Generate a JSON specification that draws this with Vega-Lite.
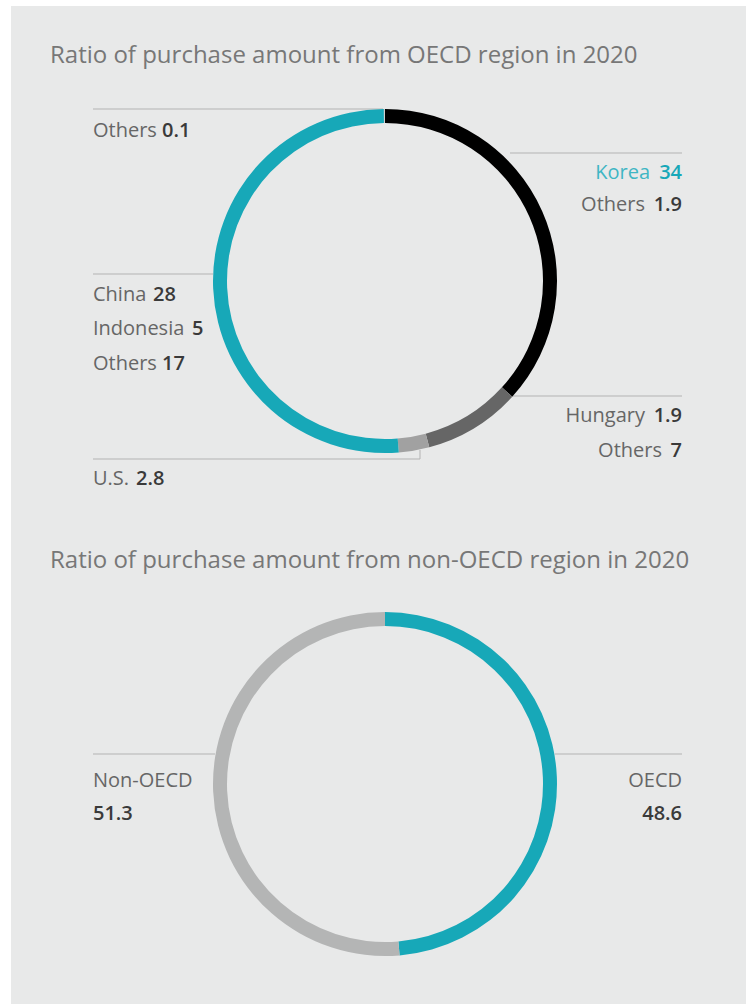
{
  "$schema": "https://vega.github.io/schema/vega-lite/v6.json",
  "width": 746,
  "height": 1005,
  "padding": 0,
  "autosize": {"type": "fit", "contains": "padding"},
  "background": "#ffffff",
  "config": {"view": {"stroke": null}, "font": "Open Sans"},
  "resolve": {"scale": {"theta": "independent"}},
  "datasets": {
    "items": [
      {"chart": "OECD", "group": "korea", "gorder": 1, "name": "Korea", "value": 34, "side": "right", "nx": 650, "ny": 179, "vx": 682, "vy": 179},
      {"chart": "OECD", "group": "korea", "gorder": 1, "name": "Others", "value": 1.9, "side": "right", "nx": 645, "ny": 211, "vx": 682, "vy": 211},
      {"chart": "OECD", "group": "hungary", "gorder": 2, "name": "Hungary", "value": 1.9, "side": "right", "nx": 645, "ny": 422, "vx": 682, "vy": 422},
      {"chart": "OECD", "group": "hungary", "gorder": 2, "name": "Others", "value": 7, "side": "right", "nx": 662, "ny": 457, "vx": 682, "vy": 457},
      {"chart": "OECD", "group": "us", "gorder": 3, "name": "U.S.", "value": 2.8, "side": "left", "nx": 93, "ny": 485, "vx": 136, "vy": 485},
      {"chart": "OECD", "group": "china", "gorder": 4, "name": "China", "value": 28, "side": "left", "nx": 93, "ny": 301, "vx": 153, "vy": 301},
      {"chart": "OECD", "group": "china", "gorder": 4, "name": "Indonesia", "value": 5, "side": "left", "nx": 93, "ny": 335, "vx": 192, "vy": 335},
      {"chart": "OECD", "group": "china", "gorder": 4, "name": "Others", "value": 17, "side": "left", "nx": 93, "ny": 370, "vx": 162, "vy": 370},
      {"chart": "OECD", "group": "other", "gorder": 5, "name": "Others", "value": 0.1, "side": "left", "nx": 93, "ny": 137, "vx": 162, "vy": 137},
      {"chart": "nonOECD", "group": "oecd", "gorder": 1, "name": "OECD", "value": 48.6, "side": "right", "nx": 682, "ny": 787, "vx": 682, "vy": 820},
      {"chart": "nonOECD", "group": "nonoecd", "gorder": 2, "name": "Non-OECD", "value": 51.3, "side": "left", "nx": 93, "ny": 787, "vx": 93, "vy": 820}
    ],
    "leaders": [
      {"x": 93, "x2": 383, "y": 109, "y2": 109},
      {"x": 510, "x2": 682, "y": 153, "y2": 153},
      {"x": 93, "x2": 213, "y": 274, "y2": 274},
      {"x": 513, "x2": 682, "y": 396, "y2": 396},
      {"x": 93, "x2": 420, "y": 459, "y2": 459},
      {"x": 420, "x2": 420, "y": 450, "y2": 459},
      {"x": 93, "x2": 215, "y": 754, "y2": 754},
      {"x": 555, "x2": 682, "y": 754, "y2": 754}
    ]
  },
  "layer": [
    {
      "data": {"values": [{}]},
      "mark": {"type": "rect", "color": "#e8e9e9"},
      "encoding": {
        "x": {"datum": 11, "type": "quantitative", "scale": {"domain": [0, 746], "nice": false, "zero": false}, "axis": null},
        "x2": {"datum": 746},
        "y": {"datum": 6, "type": "quantitative", "scale": {"domain": [0, 1005], "nice": false, "zero": false, "reverse": true}, "axis": null},
        "y2": {"datum": 1004}
      }
    },
    {
      "data": {"name": "leaders"},
      "mark": {"type": "rule", "color": "#b3b3b3", "strokeWidth": 1},
      "encoding": {
        "x": {"field": "x", "type": "quantitative", "scale": {"domain": [0, 746], "nice": false, "zero": false}, "axis": null},
        "x2": {"field": "x2"},
        "y": {"field": "y", "type": "quantitative", "scale": {"domain": [0, 1005], "nice": false, "zero": false, "reverse": true}, "axis": null},
        "y2": {"field": "y2"}
      }
    },
    {
      "data": {"name": "items"},
      "transform": [
        {"filter": "datum.chart === 'OECD'"},
        {"aggregate": [{"op": "sum", "field": "value", "as": "total"}], "groupby": ["group", "gorder"]}
      ],
      "mark": {"type": "arc", "innerRadius": 158, "outerRadius": 172},
      "encoding": {
        "x": {"datum": 385, "type": "quantitative", "scale": {"domain": [0, 746], "nice": false, "zero": false}, "axis": null},
        "y": {"datum": 281, "type": "quantitative", "scale": {"domain": [0, 1005], "nice": false, "zero": false, "reverse": true}, "axis": null},
        "theta": {"field": "total", "type": "quantitative", "stack": true, "scale": {"nice": false}},
        "order": {"field": "gorder", "type": "quantitative"},
        "color": {"field": "group", "type": "nominal", "legend": null,
          "scale": {"domain": ["korea", "hungary", "us", "china", "other", "oecd", "nonoecd"],
                    "range": ["#000000", "#666666", "#a1a1a1", "#17a8b8", "#cfd0d0", "#17a8b8", "#b4b5b5"]}}
      }
    },
    {
      "data": {"name": "items"},
      "transform": [
        {"filter": "datum.chart === 'nonOECD'"},
        {"aggregate": [{"op": "sum", "field": "value", "as": "total"}], "groupby": ["group", "gorder"]}
      ],
      "mark": {"type": "arc", "innerRadius": 158, "outerRadius": 172},
      "encoding": {
        "x": {"datum": 385, "type": "quantitative", "scale": {"domain": [0, 746], "nice": false, "zero": false}, "axis": null},
        "y": {"datum": 784, "type": "quantitative", "scale": {"domain": [0, 1005], "nice": false, "zero": false, "reverse": true}, "axis": null},
        "theta": {"field": "total", "type": "quantitative", "stack": true, "scale": {"nice": false}},
        "order": {"field": "gorder", "type": "quantitative"},
        "color": {"field": "group", "type": "nominal", "legend": null}
      }
    },
    {
      "data": {"name": "items"},
      "transform": [{"filter": "datum.side === 'left'"}],
      "mark": {"type": "text", "align": "left", "baseline": "alphabetic", "fontSize": 20, "font": "Open Sans"},
      "encoding": {
        "x": {"field": "nx", "type": "quantitative", "scale": {"domain": [0, 746], "nice": false, "zero": false}, "axis": null},
        "y": {"field": "ny", "type": "quantitative", "scale": {"domain": [0, 1005], "nice": false, "zero": false, "reverse": true}, "axis": null},
        "text": {"field": "name", "type": "nominal"},
        "color": {"value": "#666666"}
      }
    },
    {
      "data": {"name": "items"},
      "transform": [{"filter": "datum.side === 'left'"}],
      "mark": {"type": "text", "align": "left", "baseline": "alphabetic", "fontSize": 20, "fontWeight": 600, "font": "Open Sans"},
      "encoding": {
        "x": {"field": "vx", "type": "quantitative", "scale": {"domain": [0, 746], "nice": false, "zero": false}, "axis": null},
        "y": {"field": "vy", "type": "quantitative", "scale": {"domain": [0, 1005], "nice": false, "zero": false, "reverse": true}, "axis": null},
        "text": {"field": "value", "type": "nominal"},
        "color": {"value": "#3a3a3a"}
      }
    },
    {
      "data": {"name": "items"},
      "transform": [{"filter": "datum.side === 'right'"}],
      "mark": {"type": "text", "align": "right", "baseline": "alphabetic", "fontSize": 20, "font": "Open Sans"},
      "encoding": {
        "x": {"field": "nx", "type": "quantitative", "scale": {"domain": [0, 746], "nice": false, "zero": false}, "axis": null},
        "y": {"field": "ny", "type": "quantitative", "scale": {"domain": [0, 1005], "nice": false, "zero": false, "reverse": true}, "axis": null},
        "text": {"field": "name", "type": "nominal"},
        "color": {"condition": {"test": "datum.name === 'Korea'", "value": "#3fb6c4"}, "value": "#666666"}
      }
    },
    {
      "data": {"name": "items"},
      "transform": [{"filter": "datum.side === 'right'"}],
      "mark": {"type": "text", "align": "right", "baseline": "alphabetic", "fontSize": 20, "fontWeight": 600, "font": "Open Sans"},
      "encoding": {
        "x": {"field": "vx", "type": "quantitative", "scale": {"domain": [0, 746], "nice": false, "zero": false}, "axis": null},
        "y": {"field": "vy", "type": "quantitative", "scale": {"domain": [0, 1005], "nice": false, "zero": false, "reverse": true}, "axis": null},
        "text": {"field": "value", "type": "nominal"},
        "color": {"condition": {"test": "datum.name === 'Korea'", "value": "#17a8b8"}, "value": "#3a3a3a"}
      }
    },
    {
      "data": {"values": [
        {"title": "Ratio of purchase amount from OECD region in 2020", "tx": 50, "ty": 63},
        {"title": "Ratio of purchase amount from non-OECD region in 2020", "tx": 50, "ty": 568}
      ]},
      "mark": {"type": "text", "align": "left", "baseline": "alphabetic", "fontSize": 24, "font": "Open Sans"},
      "encoding": {
        "x": {"field": "tx", "type": "quantitative", "scale": {"domain": [0, 746], "nice": false, "zero": false}, "axis": null},
        "y": {"field": "ty", "type": "quantitative", "scale": {"domain": [0, 1005], "nice": false, "zero": false, "reverse": true}, "axis": null},
        "text": {"field": "title", "type": "nominal"},
        "color": {"value": "#777777"}
      }
    }
  ]
}
